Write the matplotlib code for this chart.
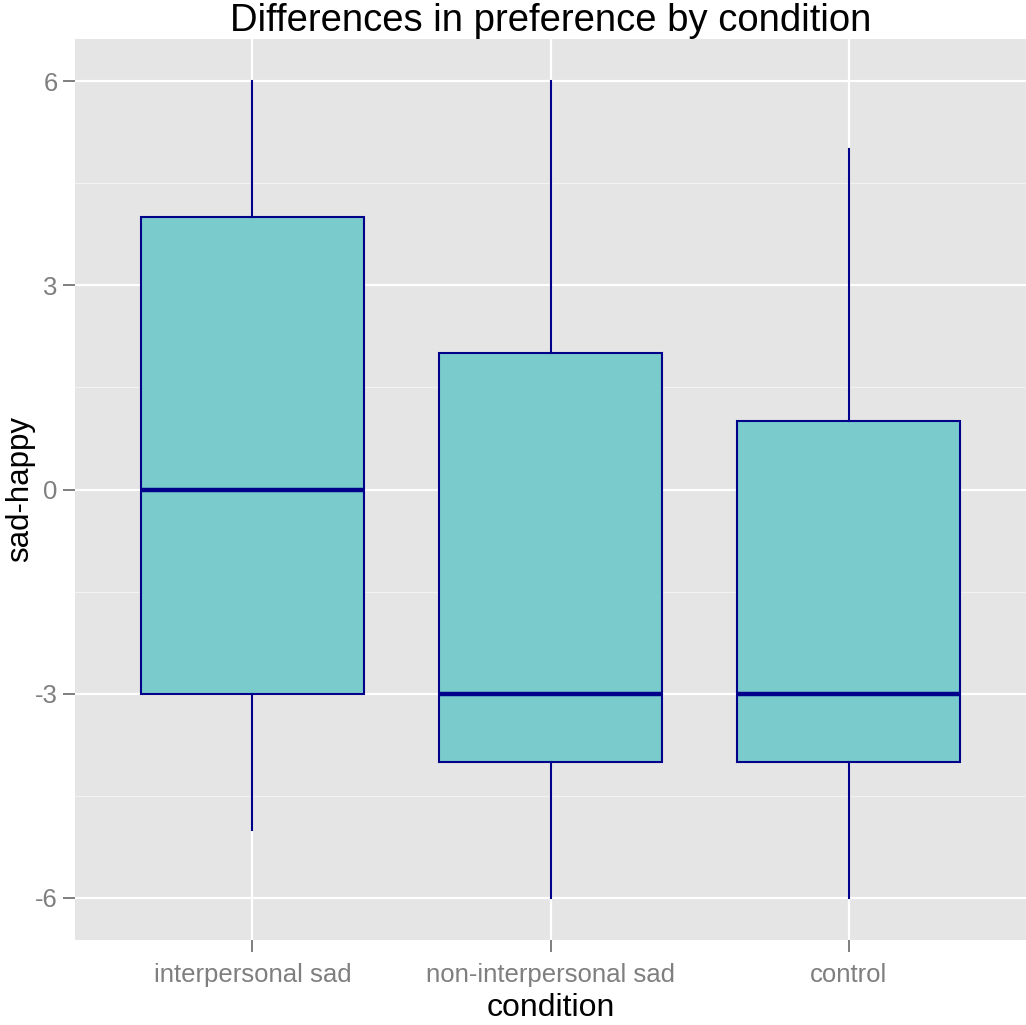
import numpy as np
import matplotlib.pyplot as plt

plt.rcParams['font.family'] = ['Liberation Sans', 'DejaVu Sans']

conditions = ["interpersonal sad", "non-interpersonal sad", "control"]
whisker_low = [-5, -6, -6]
q1 = [-3, -4, -4]
median = [0, -3, -3]
q3 = [4, 2, 1]
whisker_high = [6, 6, 5]

stats = []
for i, name in enumerate(conditions):
    stats.append(dict(label=name, whislo=whisker_low[i], q1=q1[i], med=median[i],
                      q3=q3[i], whishi=whisker_high[i], fliers=[]))

W, H = 1026, 1025
fig = plt.figure(figsize=(W / 100, H / 100), dpi=100)
ax = fig.add_axes([75 / W, (H - 940) / H, 951 / W, 901 / H])
ax.set_facecolor('#E5E5E5')

edge = '#00008B'
ax.bxp(stats, positions=[1, 2, 3], widths=0.75, patch_artist=True, showcaps=False,
       boxprops=dict(facecolor='#7ACCCC', edgecolor=edge, linewidth=1.5),
       whiskerprops=dict(color=edge, linewidth=1.5),
       medianprops=dict(color=edge, linewidth=3.2, solid_capstyle='butt'),
       zorder=3)

ax.set_xlim(0.405, 3.595)
ax.set_ylim(-6.62, 6.62)
ax.set_yticks([-6, -3, 0, 3, 6])
ax.set_yticklabels(['-6', '-3', '0', '3', '6'])
ax.set_yticks([-4.5, -1.5, 1.5, 4.5], minor=True)
ax.set_xticks([1, 2, 3])
ax.set_xticklabels(conditions)

ax.grid(which='major', color='white', linewidth=1.6, zorder=0)
ax.grid(which='minor', axis='y', color='#F2F2F2', linewidth=0.8, zorder=0)
ax.set_axisbelow(True)
for s in ax.spines.values():
    s.set_visible(False)

ax.tick_params(axis='both', which='major', colors='#7F7F7F', labelsize=18.5,
               length=8.5, width=1.4, pad=4)
ax.tick_params(axis='y', which='minor', length=0)
ax.tick_params(axis='x', pad=8)

ax.set_xlabel('condition', fontsize=23, va='center')
ax.xaxis.set_label_coords(0.5, -(1008 - 940) / 901)
ax.set_ylabel('sad-happy', fontsize=22.5, va='center')
ax.yaxis.set_label_coords(-(75 - 20) / 951, 0.5)
ax.set_title('Differences in preference by condition', fontsize=27.5, pad=3)

fig.savefig('out.png', dpi=100)
